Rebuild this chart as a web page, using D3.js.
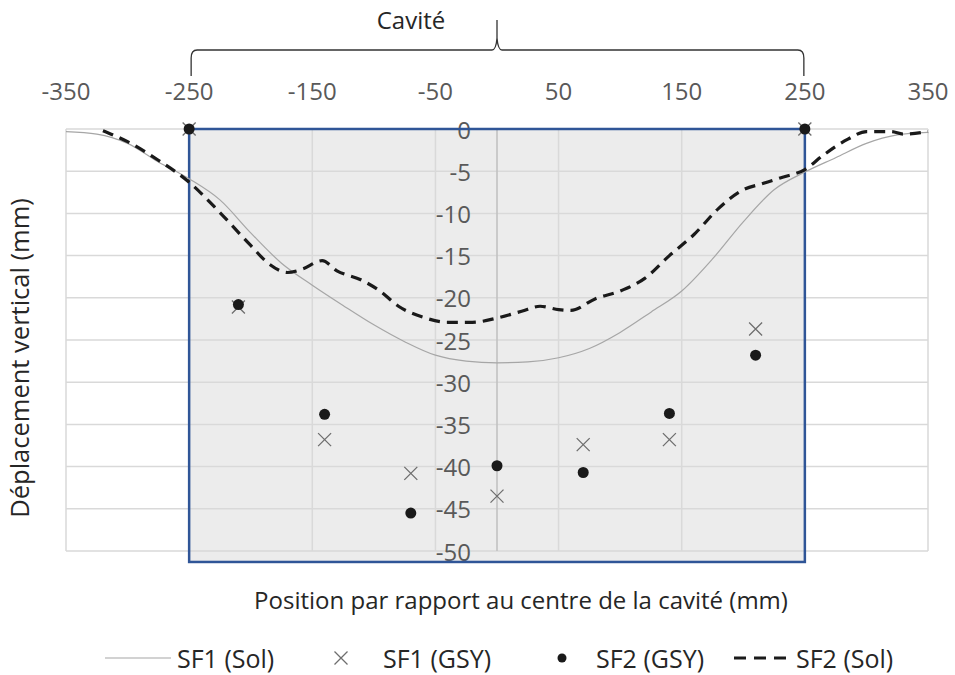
<!DOCTYPE html>
<html><head><meta charset="utf-8">
<script src="https://cdn.jsdelivr.net/npm/d3@7"></script>
<style>body{margin:0;background:#fff} svg{display:block}</style>
</head><body><svg id="c" width="955" height="675"></svg>
<script>
// ---- data ----
const xTicks = [-350, -250, -150, -50, 50, 150, 250, 350];
const yTicks = [0, -5, -10, -15, -20, -25, -30, -35, -40, -45, -50];
const cavity = [-250, 250];
const cavityLabel = "Cavité";

const sf1SolX = [-350,-325,-300,-275,-250,-225,-200,-175,-150,-125,-100,-75,-50,-25,0,25,50,75,100,125,150,175,200,225,250,275,300,325,350];
const sf1SolY = [-0.3,-0.6,-1.7,-3.9,-5.9,-8.4,-12.3,-15.9,-18.5,-20.9,-23.2,-25.2,-26.8,-27.5,-27.7,-27.6,-27.1,-26.0,-24.1,-21.7,-19.2,-15.4,-11.0,-7.2,-5.1,-3.4,-1.7,-0.7,-0.4];

const sf2SolX = [-320,-300,-275,-250,-225,-200,-185,-170,-158,-142,-130,-110,-95,-80,-60,-40,-20,0,20,35,50,60,80,100,120,140,160,180,200,215,230,250,265,285,300,320,330,350];
const sf2SolY = [-0.2,-1.5,-3.7,-6.3,-9.9,-13.8,-16.0,-17.0,-16.6,-15.6,-16.8,-17.9,-19.2,-21.0,-22.3,-22.9,-22.9,-22.4,-21.6,-21.0,-21.4,-21.5,-20.1,-19.2,-17.7,-15.0,-12.5,-9.4,-7.2,-6.5,-5.8,-4.8,-3.1,-1.2,-0.3,-0.3,-0.6,-0.3];

const gsyX = [-250, -210, -140, -70, 0, 70, 140, 210, 250];
const sf1Gsy = [0, -21.1, -36.8, -40.8, -43.5, -37.4, -36.8, -23.7, 0];
const sf2Gsy = [0, -20.8, -33.8, -45.5, -39.9, -40.7, -33.7, -26.8, 0];

const seriesNames = ["SF1 (Sol)", "SF1 (GSY)", "SF2 (GSY)", "SF2 (Sol)"];
const xTitle = "Position par rapport au centre de la cavité (mm)";
const yTitle = "Déplacement vertical (mm)";

// ---- drawing ----
const FONT = "'Open Sans', 'Liberation Sans', sans-serif";
const svg = d3.select("#c");
const x = d3.scaleLinear().domain([-350, 350]).range([66, 928]);
const y = d3.scaleLinear().domain([-50, 0]).range([551, 129]);
const rectBottom = -51.3;

// cavity shaded zone
svg.append("rect")
  .attr("x", x(cavity[0])).attr("y", y(0))
  .attr("width", x(cavity[1]) - x(cavity[0]))
  .attr("height", y(rectBottom) - y(0))
  .attr("fill", "#ececec");

// gridlines
const g = svg.append("g");
g.selectAll("line.h").data(yTicks).join("line")
  .attr("x1", x(-350)).attr("x2", x(350))
  .attr("y1", d => y(d)).attr("y2", d => y(d))
  .attr("stroke", "#d9d9d9").attr("stroke-width", 1.5);
g.selectAll("line.v").data(xTicks).join("line")
  .attr("x1", d => x(d)).attr("x2", d => x(d))
  .attr("y1", y(0)).attr("y2", y(-50))
  .attr("stroke", "#d9d9d9").attr("stroke-width", 1.5);
// zero axis
svg.append("line")
  .attr("x1", x(0)).attr("x2", x(0)).attr("y1", y(0)).attr("y2", y(-50))
  .attr("stroke", "#bfbfbf").attr("stroke-width", 1.5);

// y tick labels (next to the zero axis)
svg.append("g").selectAll("text").data(yTicks).join("text")
  .attr("x", x(0) - 26).attr("y", d => y(d))
  .attr("text-anchor", "end").attr("dominant-baseline", "central")
  .attr("font-family", FONT).attr("font-size", 24).attr("fill", "#595959")
  .text(d => d);

// top x tick labels
svg.append("g").selectAll("text").data(xTicks).join("text")
  .attr("x", d => x(d)).attr("y", 100)
  .attr("text-anchor", "middle")
  .attr("font-family", FONT).attr("font-size", 24).attr("fill", "#595959")
  .text(d => d);

// cavity outline
svg.append("rect")
  .attr("x", x(cavity[0])).attr("y", y(0))
  .attr("width", x(cavity[1]) - x(cavity[0]))
  .attr("height", y(rectBottom) - y(0))
  .attr("fill", "none").attr("stroke", "#2f5597").attr("stroke-width", 2.5);

// series lines
const sf1Sol = sf1SolX.map((v, i) => [v, sf1SolY[i]]);
const sf2Sol = sf2SolX.map((v, i) => [v, sf2SolY[i]]);
const line = d3.line().x(d => x(d[0])).y(d => y(d[1])).curve(d3.curveMonotoneX);
svg.append("path").attr("d", line(sf1Sol))
  .attr("fill", "none").attr("stroke", "#a6a6a6").attr("stroke-width", 1.2);
svg.append("path").attr("d", line(sf2Sol))
  .attr("fill", "none").attr("stroke", "#1a1a1a").attr("stroke-width", 3.2)
  .attr("stroke-dasharray", "11,7");

// markers
const crossPath = s => `M${-s},${-s}L${s},${s}M${-s},${s}L${s},${-s}`;
svg.append("g").selectAll("path").data(gsyX.map((v, i) => [v, sf1Gsy[i]])).join("path")
  .attr("transform", d => `translate(${x(d[0])},${y(d[1])})`)
  .attr("d", crossPath(6.5))
  .attr("stroke", "#6e6e6e").attr("stroke-width", 1.3).attr("fill", "none");
svg.append("g").selectAll("circle").data(gsyX.map((v, i) => [v, sf2Gsy[i]])).join("circle")
  .attr("cx", d => x(d[0])).attr("cy", d => y(d[1])).attr("r", 5.5)
  .attr("fill", "#1a1a1a");

// brace above the cavity
const xl = x(cavity[0]) + 2, xr = x(cavity[1]) - 1, xc = x(0);
const yH = 50, yEnd = 76, yTop = 20;
const brace = `M${xl},${yEnd} L${xl},${yH + 8} Q${xl},${yH} ${xl + 6},${yH} L${xc - 5},${yH} Q${xc - 1},${yH} ${xc},${yH - 12} L${xc},${yTop}` +
  ` M${xc},${yH - 12} Q${xc + 1},${yH} ${xc + 5},${yH} L${xr - 6},${yH} Q${xr},${yH} ${xr},${yH + 8} L${xr},${yEnd}`;
svg.append("path").attr("d", brace).attr("fill", "none")
  .attr("stroke", "#333").attr("stroke-width", 1.3);
svg.append("text").attr("x", 411).attr("y", 29).attr("text-anchor", "middle")
  .attr("font-family", FONT).attr("font-size", 24).attr("fill", "#262626")
  .text(cavityLabel);

// axis titles
svg.append("text").attr("x", 521).attr("y", 609).attr("text-anchor", "middle")
  .attr("font-family", FONT).attr("font-size", 24).attr("fill", "#262626")
  .text(xTitle);
svg.append("text").attr("transform", "translate(29,358) rotate(-90)")
  .attr("text-anchor", "middle")
  .attr("font-family", FONT).attr("font-size", 25.5).attr("fill", "#262626")
  .text(yTitle);

// legend
const ly = 658;
const lg = svg.append("g").attr("font-family", FONT).attr("font-size", 25).attr("fill", "#262626");
lg.append("line").attr("x1", 105).attr("x2", 171).attr("y1", ly).attr("y2", ly)
  .attr("stroke", "#a6a6a6").attr("stroke-width", 1.2);
lg.append("text").attr("x", 177).attr("y", ly).attr("dominant-baseline", "central").text(seriesNames[0]);
lg.append("path").attr("transform", `translate(341,${ly})`).attr("d", crossPath(6.5))
  .attr("stroke", "#6e6e6e").attr("stroke-width", 1.3).attr("fill", "none");
lg.append("text").attr("x", 383).attr("y", ly).attr("dominant-baseline", "central").text(seriesNames[1]);
lg.append("circle").attr("cx", 562).attr("cy", ly).attr("r", 4.5).attr("fill", "#1a1a1a");
lg.append("text").attr("x", 596).attr("y", ly).attr("dominant-baseline", "central").text(seriesNames[2]);
lg.append("line").attr("x1", 734).attr("x2", 790).attr("y1", ly).attr("y2", ly)
  .attr("stroke", "#1a1a1a").attr("stroke-width", 3.2).attr("stroke-dasharray", "12,8");
lg.append("text").attr("x", 796).attr("y", ly).attr("dominant-baseline", "central").text(seriesNames[3]);
</script>
</body></html>
